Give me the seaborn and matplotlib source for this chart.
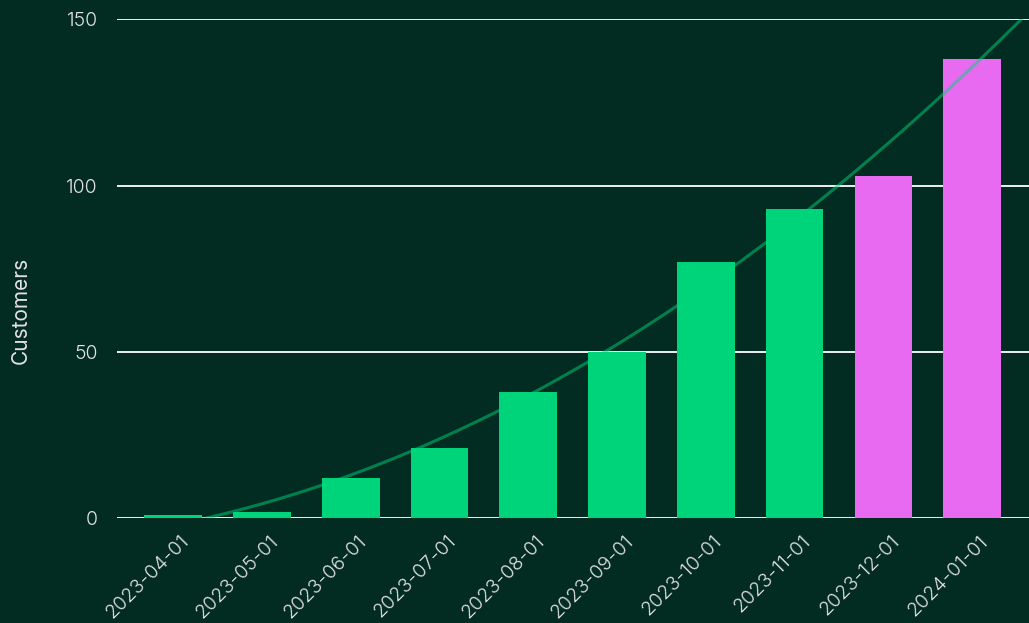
import numpy as np
import pandas as pd
import matplotlib
matplotlib.use("Agg")
import matplotlib.pyplot as plt
import matplotlib.transforms as mtransforms
import seaborn as sns

months = ["2023-04-01", "2023-05-01", "2023-06-01", "2023-07-01", "2023-08-01",
          "2023-09-01", "2023-10-01", "2023-11-01", "2023-12-01", "2024-01-01"]
customers = [1, 2, 12, 21, 38, 50, 77, 93, 103, 138]
period = ["actual"] * 8 + ["projected"] * 2

BG = "#022c22"
GREEN = "#00d47a"
PINK = "#e76af0"
TEXT = "#e2e2e2"

sns.set_theme(style="dark")
plt.rcParams["font.family"] = ["Inter", "DejaVu Sans"]
plt.rcParams["font.weight"] = 300

df = pd.DataFrame({"month": months, "customers": customers, "period": period})
df["idx"] = np.arange(len(df))

fig, ax = plt.subplots(figsize=(10.29, 6.23), dpi=100)
fig.patch.set_facecolor(BG)
ax.set_facecolor(BG)

sns.barplot(data=df, x="month", y="customers", hue="period",
            palette={"actual": GREEN, "projected": PINK},
            dodge=False, width=0.65, saturation=1, linewidth=0,
            legend=False, ax=ax, zorder=2)

ax.set_xlim(-0.63, 9.64)
ax.set_ylim(0, 150)

# quadratic trend over the monthly counts
sns.regplot(data=df, x="idx", y="customers", order=2, ci=None, scatter=False,
            truncate=False, ax=ax,
            line_kws={"color": GREEN, "alpha": 0.5, "lw": 2.2, "zorder": 3})
ax.set_xlim(-0.63, 9.64)
ax.set_ylim(0, 150)

ax.set_yticks([0, 50, 100, 150])
ax.grid(axis="y", color="white", lw=1.3, zorder=1)
ax.grid(axis="x", visible=False)
ax.set_axisbelow(True)
for s in ax.spines.values():
    s.set_visible(False)

ax.set_xticks(range(len(months)))
ax.set_xticklabels(months, rotation=45, ha="right", rotation_mode="anchor")
ax.tick_params(axis="both", colors=TEXT, labelsize=14, length=0)
ax.tick_params(axis="y", pad=14)
ax.tick_params(axis="x", pad=10)
shift = mtransforms.ScaledTranslation(5 / 72, 0, fig.dpi_scale_trans)
for lab in ax.get_xticklabels():
    lab.set_transform(lab.get_transform() + shift)
ax.set_xlabel("")
ax.set_ylabel("Customers", color=TEXT, fontsize=15)
ax.yaxis.set_label_coords(-0.095, 0.417)

fig.subplots_adjust(left=0.114, right=1.0, top=0.969, bottom=0.168)
fig.savefig("out.png", dpi=100, facecolor=BG)
